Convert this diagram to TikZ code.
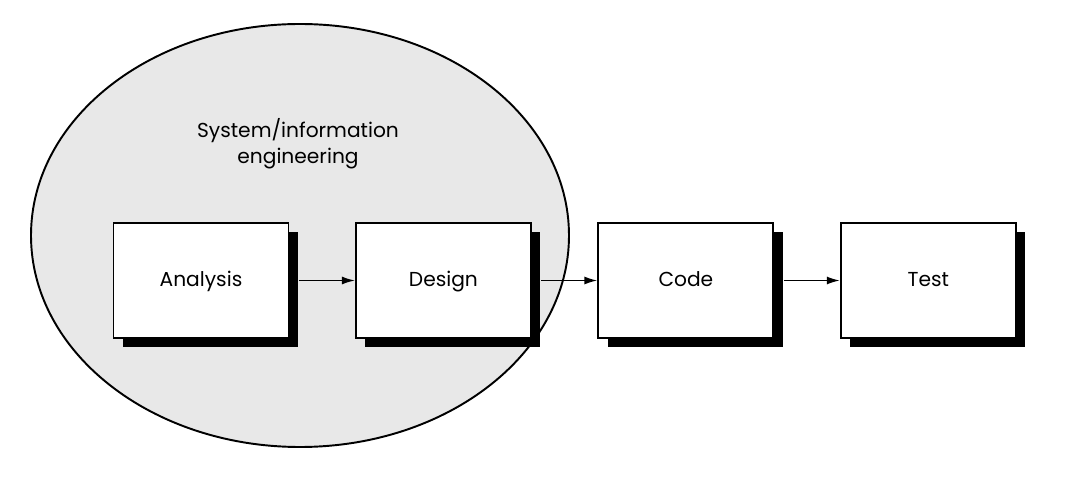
\documentclass[tikz,border=0pt]{standalone}
\usepackage{fontspec}
\setmainfont{Poppins}
\usepackage{tikz}
\usetikzlibrary{positioning}
\usetikzlibrary{shadows}
\usetikzlibrary{arrows.meta}
\definecolor{sysgray}{HTML}{E8E8E8}

\begin{document}
\begin{tikzpicture}[
  phase/.style={draw, fill=white, line width=1.1pt, minimum width=3.5cm, minimum height=2.3cm,
    font=\fontsize{11.5}{14}\selectfont, text height=1.6ex, text depth=0.4ex,
    drop shadow={shadow xshift=0.19cm, shadow yshift=-0.19cm, opacity=1, fill=black}},
  flow/.style={line width=0.9pt, -{Latex[length=0.26cm,width=0.16cm]}},
  node distance=1.31cm
]
\useasboundingbox (0,0) rectangle (21.38,9.78);

% system/information engineering
\fill[sysgray] (6.0,5.07) ellipse [x radius=5.38, y radius=4.23];
\node[align=center, font=\fontsize{11.5}{14.8}\selectfont] (sysinfo) at (5.96,6.9) {System/information\\engineering};

% phases
\node[phase] (analysis) at (4.02,4.17) {Analysis};
\node[phase, right=of analysis] (design) {Design};
\node[phase, right=of design] (code) {Code};
\node[phase, right=of code] (test) {Test};

\draw[line width=1.1pt] (6.0,5.07) ellipse [x radius=5.38, y radius=4.23];

\draw[flow] ([xshift=0.19cm]analysis.east) -- (design);
\draw[flow] ([xshift=0.19cm]design.east) -- (code);
\draw[flow] ([xshift=0.19cm]code.east) -- (test);

\end{tikzpicture}
\end{document}
